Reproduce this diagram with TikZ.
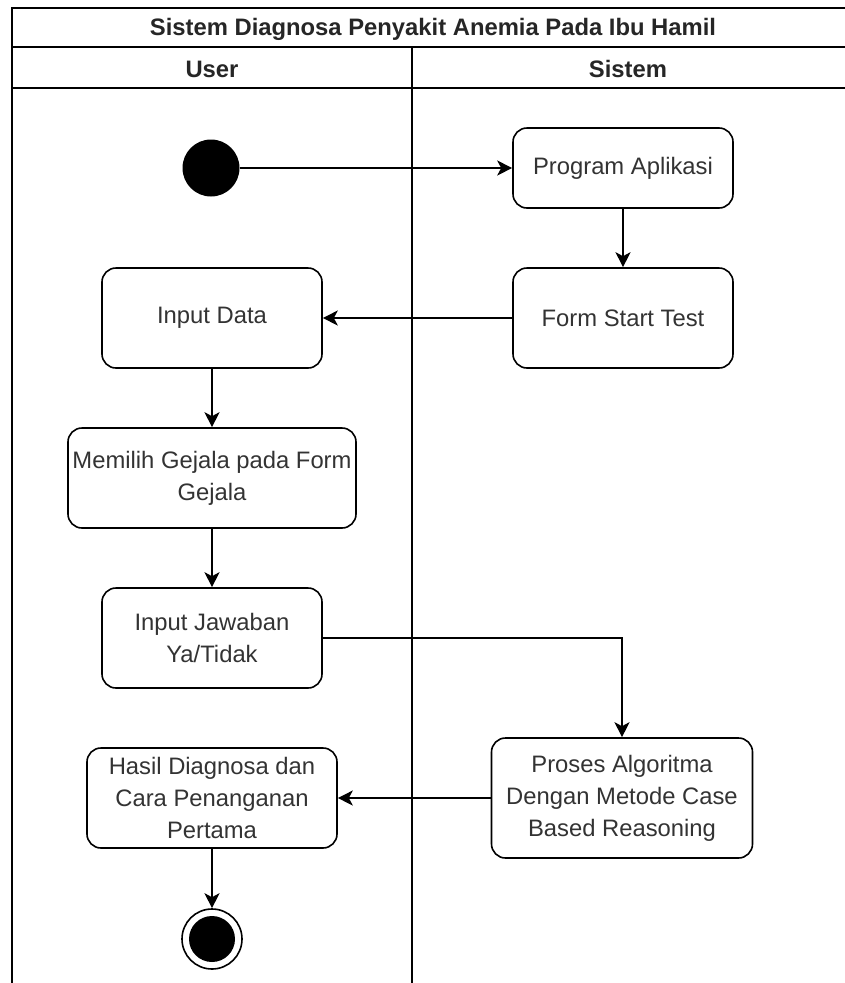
\documentclass[tikz,border=0pt]{standalone}
\usepackage{fontspec}
\setmainfont{Liberation Sans}
\usetikzlibrary{arrows.meta}
\definecolor{txt}{HTML}{333333}
\tikzset{
  act/.style={draw=black, line width=1.6pt, rounded corners=14pt, fill=white,
    align=center, text=txt, font=\fontsize{23.8}{32}\selectfont, inner sep=0pt},
  flow/.style={draw=black, line width=1.6pt,
    -{Stealth[length=15pt,width=15pt,inset=4pt]}},
  lane/.style={draw=black, line width=2pt},
  hdr/.style={font=\bfseries\fontsize{23.8}{28}\selectfont, text=black!85},
}
\begin{document}
\begin{tikzpicture}[x=1pt, y=-1pt]
\useasboundingbox (0,0) rectangle (844,983);
\fill[white] (0,0) rectangle (844,983);

% pool frame and lanes
\draw[lane] (850,8) -- (12,8) -- (12,990);
\draw[lane] (12,47) -- (850,47);
\draw[lane] (12,88) -- (850,88);
\draw[lane] (412,47) -- (412,990);
\node[hdr] (title) at (433,29) {Sistem Diagnosa Penyakit Anemia Pada Ibu Hamil};
\node[hdr] (user) at (212,69) {User};
\node[hdr] (sistem) at (628,69) {Sistem};

% start and end
\node[circle, fill=black, minimum size=57pt, inner sep=0pt] (start) at (211,168) {};
\node[circle, draw=black, line width=1.6pt, fill=white, minimum size=60pt, inner sep=0pt] (end) at (212,939) {};
\fill[black] (end.center) circle (23pt);

% activities
\node[act, minimum width=220pt, minimum height=80pt] (prog) at (623,168) {Program Aplikasi};
\node[act, minimum width=220pt, minimum height=100pt] (form) at (623,318) {Form Start Test};
\node[act, minimum width=220pt, minimum height=100pt] (input) at (212,318) {Input Data};
\node[act, minimum width=288pt, minimum height=100pt] (gejala) at (212,478) {Memilih Gejala pada Form\\Gejala};
\node[act, minimum width=220pt, minimum height=100pt] (jawab) at (212,638) {Input Jawaban\\Ya/Tidak};
\node[act, minimum width=261pt, minimum height=120pt] (proses) at (622,798) {Proses Algoritma\\Dengan Metode Case\\Based Reasoning};
\node[act, minimum width=250pt, minimum height=100pt] (hasil) at (212,798) {Hasil Diagnosa dan\\Cara Penanganan\\Pertama};

% connectors
\draw[flow] (start) -- (prog);
\draw[flow] (prog) -- (form);
\draw[flow] (form) -- (input);
\draw[flow] (input) -- (gejala);
\draw[flow] (gejala) -- (jawab);
\draw[flow] (jawab.east) -| (proses.north);
\draw[flow] (proses) -- (hasil);
\draw[flow] (hasil) -- (end);
\end{tikzpicture}
\end{document}
